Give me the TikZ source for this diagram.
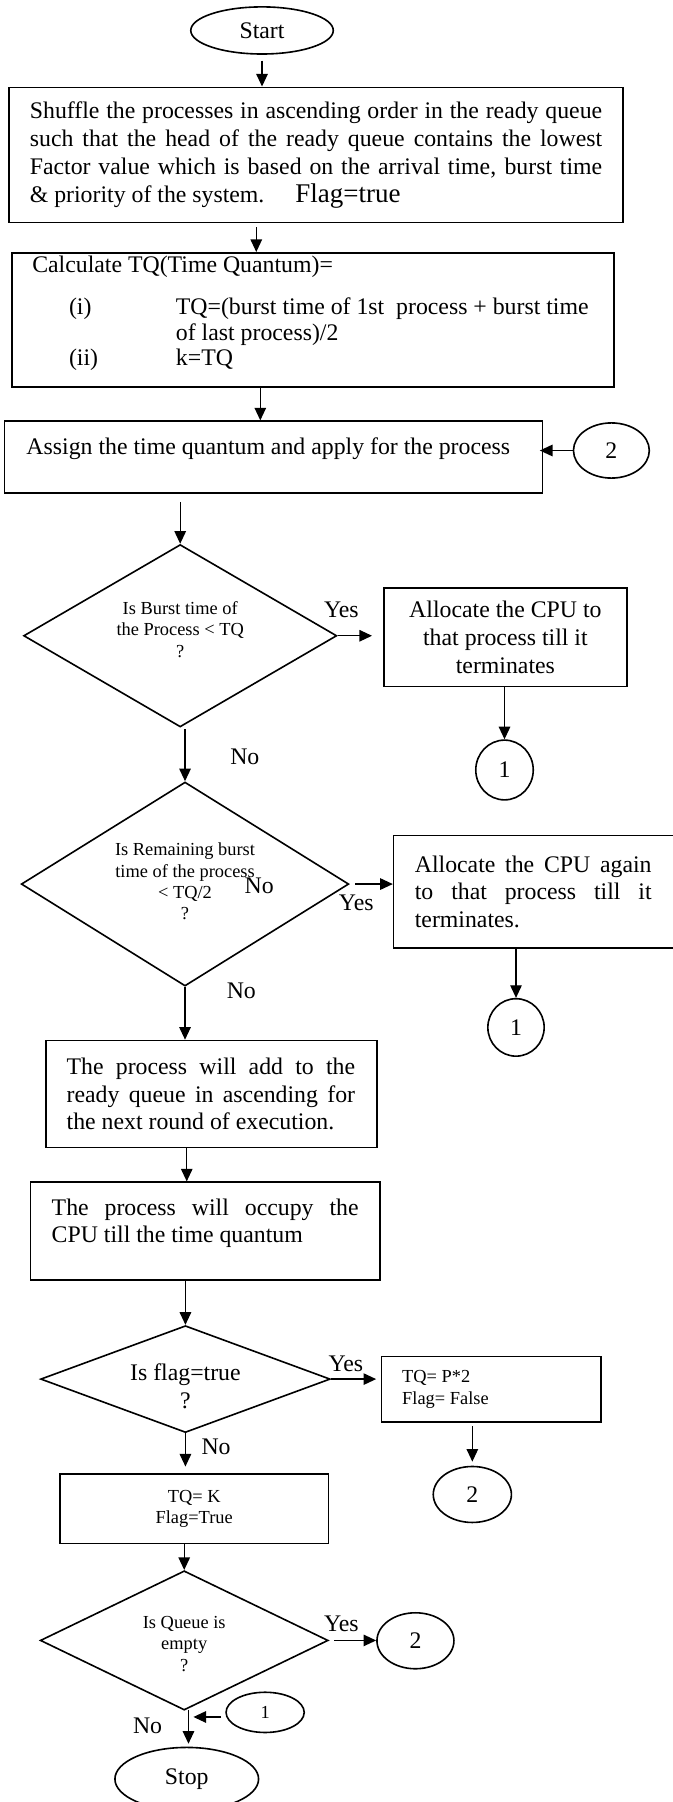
\documentclass[tikz,border=0pt]{standalone}
\usepackage{fontspec}
\setmainfont{Liberation Serif}
\usetikzlibrary{shapes.geometric,arrows.meta}
\newcommand{\mainf}{\fontsize{20.7pt}{24pt}\selectfont}
\newcommand{\smallf}{\fontsize{16pt}{18.6pt}\selectfont}
\newcommand{\bigf}{\fontsize{23.5pt}{26pt}\selectfont}
\newcommand{\jl}[2]{\makebox[#1][s]{#2}}
\begin{document}
\begin{tikzpicture}[x=1pt,y=-1pt,
  every node/.style={font=\mainf},
  box/.style={draw, line width=1.4pt, rectangle, inner sep=0pt},
  ell/.style={draw, line width=1.4pt, ellipse, inner sep=0pt},
  dia/.style={draw, line width=1.4pt, diamond, inner sep=0pt},
  arr/.style={line width=1.2pt, -{Triangle[length=11pt,width=10pt]}},
  lbl/.style={inner sep=0pt},
  smalltxt/.style={inner sep=0pt, font=\smallf, align=center}]
\useasboundingbox (0,0) rectangle (585,1568);
\fill[white] (0,0) rectangle (585,1568);

% Start
\node[ell, minimum width=124pt, minimum height=41pt] (start) at (228,26.5) {Start};

% Box 1
\node[box] (b1) at (275,134.75) {\parbox[c][117.5pt][c]{534pt}{\hspace*{18pt}\parbox{498pt}{\fontsize{20.7pt}{24.3pt}\selectfont
\jl{498pt}{Shuffle the processes in ascending order in the ready queue}\\
\jl{498pt}{such that the head of the ready queue contains the lowest}\\
\jl{498pt}{Factor value which is based on the arrival time, burst time}\\
\& priority of the system.\hspace{27pt}{\bigf Flag=true}}}};

% Box 2
\node[box] (b2) at (272.5,278.3) {\parbox[c][116.6pt][t]{524pt}{\vspace*{3pt}\hspace*{17.6pt}\parbox[t]{500pt}{\fontsize{20.7pt}{22.5pt}\selectfont
Calculate TQ(Time Quantum)=\\[13.5pt]
\hspace*{32pt}\makebox[93pt][l]{(i)}TQ=(burst time of 1st\ \ process + burst time\\
\hspace*{125pt}of last process)/2\\
\hspace*{32pt}\makebox[93pt][l]{(ii)}k=TQ}}};

% Box 3
\node[box] (b3) at (237.9,397.75) {\parbox[c][62.5pt][t]{468.3pt}{\vspace*{14pt}\hspace*{19.3pt}Assign the time quantum and apply for the process}};
\node[ell, minimum width=66pt, minimum height=48pt] (c2a) at (532,392) {2};

% Decision 1
\node[dia, minimum width=272.5pt, minimum height=158.7pt] (d1) at (156.8,553.2) {};
\node[smalltxt] (d1t) at (156.8,547.6) {Is Burst time of\\the Process < TQ\\?};
\node[lbl] (yes1) at (297,531) {Yes};
\node[box, minimum width=211.5pt, minimum height=85.6pt, align=center, font=\fontsize{20.7pt}{24.5pt}\selectfont] (al1) at (439.75,554.4) {Allocate the CPU to\\that process till it\\terminates};
\node[ell, minimum width=50pt, minimum height=52pt] (c1a) at (439,670) {1};
\node[lbl] (no1) at (213,658.7) {No};

% Decision 2
\node[dia, minimum width=285pt, minimum height=177.5pt] (d2) at (161,769.25) {};
\node[smalltxt] (d2t) at (161,767) {Is Remaining burst\\time of the process\\< TQ/2\\?};
\node[lbl] (nos) at (225.5,771) {No};
\node[lbl] (yes2) at (310,786) {Yes};
\node[box] (al2) at (466.25,776) {\parbox[c][98pt][c]{247.5pt}{\hspace*{18.5pt}\parbox{206pt}{\mainf
\jl{206pt}{Allocate the CPU again}\\
\jl{206pt}{to that process till it}\\
terminates.}}};
\node[ell, minimum width=49pt, minimum height=50pt] (c1b) at (449,894) {1};
\node[lbl] (no2) at (210,862) {No};

% Box 4
\node[box] (b4) at (183.9,951.95) {\parbox[c][93.1pt][c]{288.2pt}{\hspace*{18.2pt}\parbox{251pt}{\fontsize{20.7pt}{23.7pt}\selectfont
\jl{251pt}{The process will add to the}\\
\jl{251pt}{ready queue in ascending for}\\
the next round of execution.}}};

% Box 5
\node[box] (b5) at (178.75,1071.2) {\parbox[c][85pt][t]{304.1pt}{\vspace*{15pt}\hspace*{18.3pt}\parbox[t]{267pt}{\fontsize{20.7pt}{23.5pt}\selectfont
\jl{267pt}{The process will occupy the}\\
CPU till the time quantum}}};

% Decision 3
\node[dia, minimum width=252pt, minimum height=93pt] (d3) at (161.35,1200) {};
\node[inner sep=0pt, align=center, font=\fontsize{20.7pt}{24.8pt}\selectfont] (d3t) at (161.35,1206.4) {Is flag=true\\?};
\node[lbl] (yes3) at (301,1187) {Yes};
\node[box] (b6) at (427.5,1209) {\parbox[c][57pt][c]{191pt}{\hspace*{18pt}\parbox{170pt}{\smallf TQ= P*2\\Flag= False}}};
\node[ell, minimum width=68pt, minimum height=48.7pt] (c2b) at (411,1300.4) {2};
\node[lbl] (no3) at (188,1259) {No};
\node[box, minimum width=234pt, minimum height=60.4pt, font=\smallf, align=center] (b7) at (169,1312.8) {TQ= K\\Flag=True};

% Decision 4
\node[dia, minimum width=250.5pt, minimum height=121.2pt] (d4) at (160.3,1427.4) {};
\node[smalltxt] (d4t) at (160.3,1430.3) {Is Queue is\\empty\\?};
\node[lbl] (yes4) at (297,1413) {Yes};
\node[ell, minimum width=67pt, minimum height=48.7pt] (c2c) at (361.5,1427.7) {2};
\node[lbl] (no4) at (128.4,1501.7) {No};
\node[ell, minimum width=68pt, minimum height=35pt, font=\smallf] (e1) at (230.7,1490) {1};
\node[ell, minimum width=125pt, minimum height=55pt] (stop) at (162.5,1548) {Stop};

% connector helper points
\coordinate (p1) at (223,197.6);
\coordinate (p2) at (226.5,336.6);
\coordinate (p3) at (156.8,436.7);
\coordinate (p4) at (162.5,998.5);
\coordinate (p6) at (164,1488);
\coordinate (m1) at (168.3,1494);

% connectors
\draw[arr, shorten <=5pt] (start.south) -- (start.south |- b1.north);
\draw[arr] (p1) -- (p1 |- b2.north);
\draw[arr] (p2) -- (p2 |- b3.north);
\draw[arr, shorten >=-3pt] (c2a.west) -- (c2a.west -| b3.east);
\draw[arr] (p3) -- (d1.north);
\draw[arr, shorten >=9.6pt] (d1.east) -- (d1.east -| al1.west);
\draw[arr] (c1a.north |- al1.south) -- (c1a.north);
\draw[arr, shorten <=1.5pt] (d2.north |- d1.south) -- (d2.north);
\draw[arr, shorten <=5pt] (d2.east) -- (d2.east -| al2.west);
\draw[arr] (c1b.north |- al2.south) -- (c1b.north);
\draw[arr] (d2.south) -- (d2.south |- b4.north);
\draw[arr] (p4) -- (p4 |- b5.north);
\draw[arr] (d3.north |- b5.south) -- (d3.north);
\draw[arr, shorten >=4pt] (d3.east) -- (d3.east -| b6.west);
\draw[arr, shorten <=3pt, shorten >=3.5pt] (c2b.north |- b6.south) -- (c2b.north);
\draw[arr, shorten >=5.8pt] (d3.south) -- (d3.south |- b7.north);
\draw[arr] (d4.north |- b7.south) -- (d4.north);
\draw[arr, shorten <=4.5pt] (d4.east) -- (d4.east -| c2c.west);
\draw[arr, shorten >=2.5pt] (p6) -- (p6 |- stop.north);
\draw[arr, shorten <=3.5pt] (e1.west |- m1) -- (m1);
\end{tikzpicture}
\end{document}
